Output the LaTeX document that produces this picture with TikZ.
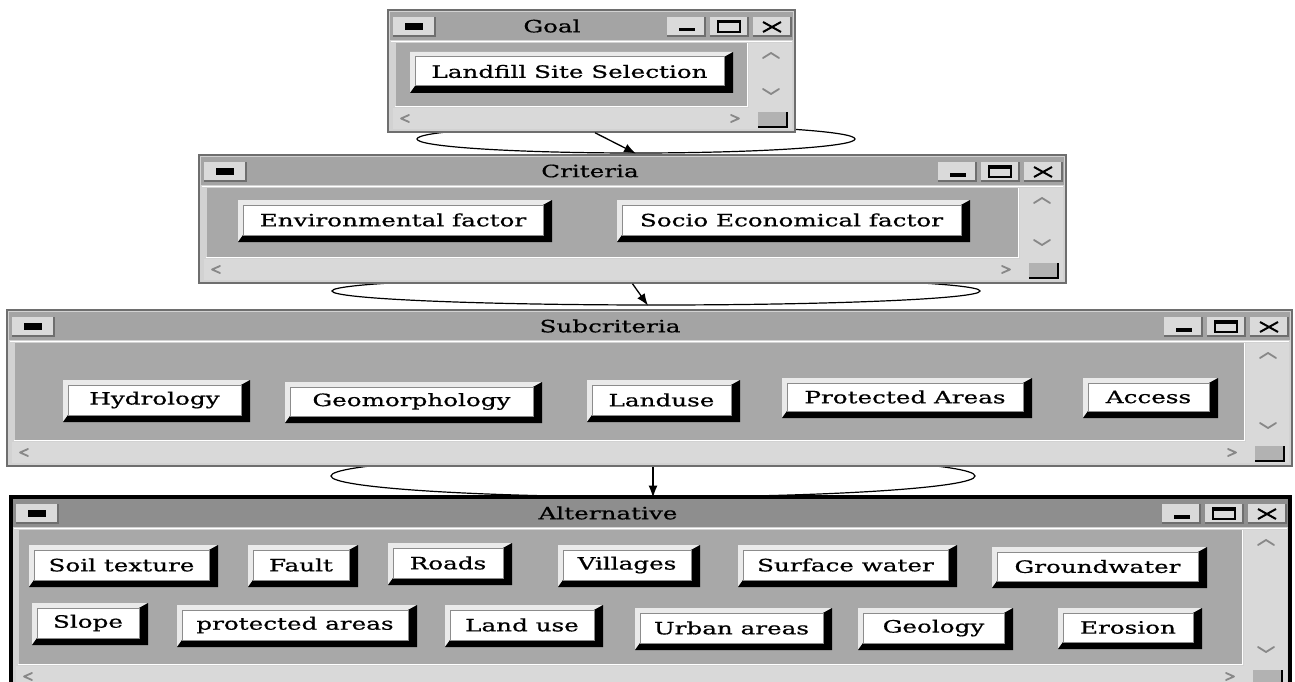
\documentclass[tikz,border=0pt]{standalone}
\usepackage{fontspec}
\newfontfamily\uifont[FakeStretch=1.45,FakeBold=0.7]{DejaVu Serif}
\usetikzlibrary{arrows.meta,shapes.geometric,calc}
\definecolor{framelight}{HTML}{D2D2D2}
\definecolor{framedark}{HTML}{6E6E6E}
\definecolor{titleinactive}{HTML}{A4A4A4}
\definecolor{titleactive}{HTML}{8E8E8E}
\definecolor{contentgray}{HTML}{A8A8A8}
\definecolor{scrollgray}{HTML}{D9D9D9}
\definecolor{btnlight}{HTML}{DADADA}
\definecolor{bevlight}{HTML}{EAEAEA}
\definecolor{faceline}{HTML}{8C8C8C}
\definecolor{chevgray}{HTML}{888888}
\definecolor{cornergray}{HTML}{B2B2B2}
\tikzset{
  inactiveframe/.style={draw=framedark,line width=1.5pt,fill=framelight,inner sep=0pt},
  activeframe/.style={draw=black,line width=4pt,fill=framelight,inner sep=0pt},
  inactivetitle/.style={fill=titleinactive},
  activetitle/.style={fill=titleactive},
  wintitle/.style={font=\uifont\fontsize{17}{20}\selectfont,text=black,inner sep=0pt},
  btnface/.style={draw=faceline,line width=1pt,fill=white,inner sep=0pt,font=\uifont\fontsize{17}{20}\selectfont},
  chev/.style={draw=chevgray,line width=1.8pt,line join=round,line cap=round},
  tbtnedge/.style={draw=framedark,line width=1.5pt},
  hoop/.style={draw=black,line width=1.2pt,ellipse,inner sep=0pt},
  conn/.style={draw=black,line width=1.3pt,-{Latex[length=12pt,width=9pt]}},
}
\newcommand\tbtnbox[2]{%
  \fill[btnlight] (#1,#2) rectangle (#1+38,#2+19);
  \draw[tbtnedge] (#1+38,#2) -- (#1+38,#2+19) -- (#1,#2+19);
}
% #1 name, #2 x1, #3 y1, #4 x2, #5 y2, #6 title, #7 title x, #8 inactive/active
\newcommand\uiwin[8]{%
  \pgfmathsetmacro\wcx{(#2+#4)/2}%
  \pgfmathsetmacro\wcy{(#3+#5)/2}%
  \pgfmathsetmacro\wwd{#4-#2}%
  \pgfmathsetmacro\wht{#5-#3}%
  \node[#8frame,minimum width=\wwd pt,minimum height=\wht pt] (#1) at (\wcx,\wcy) {};
  \fill[#8title] (#2+2,#3+2) rectangle (#4-2,#3+30);
  \fill[contentgray] (#2+8,#3+33) rectangle (#4-48,#5-26);
  \fill[scrollgray] (#4-46,#3+33) rectangle (#4-3,#5-3);
  \fill[scrollgray] (#2+5,#5-24) rectangle (#4-46,#5-3);
  \draw[white,line width=1.5pt] (#2+3,#3+31.5) -- (#4-3,#3+31.5);
  \draw[white,line width=1pt] (#2+7,#5-25.5) -- (#4-47.5,#5-25.5) -- (#4-47.5,#3+33);
  \draw[chev] (#2+21,#5-17) -- (#2+13,#5-13.5) -- (#2+21,#5-10);
  \draw[chev] (#4-64,#5-17) -- (#4-56,#5-13.5) -- (#4-64,#5-10);
  \draw[chev] (#4-32,#3+48) -- (#4-24,#3+43) -- (#4-16,#3+48);
  \draw[chev] (#4-32,#5-43) -- (#4-24,#5-38) -- (#4-16,#5-43);
  \fill[cornergray] (#4-37,#5-20) rectangle (#4-8,#5-5);
  \draw[black,line width=1.5pt] (#4-37,#5-5) -- (#4-8,#5-5) -- (#4-8,#5-20);
  \fill[btnlight] (#2+5,#3+7) rectangle (#2+47,#3+26);
  \draw[tbtnedge] (#2+47,#3+7) -- (#2+47,#3+26) -- (#2+5,#3+26);
  \fill[black] (#2+17,#3+13) rectangle (#2+35,#3+20);
  \tbtnbox{#4-128}{#3+7}
  \fill[black] (#4-116,#3+18) rectangle (#4-100,#3+21.5);
  \tbtnbox{#4-85}{#3+7}
  \draw[black,line width=1.2pt] (#4-77,#3+11) rectangle (#4-55,#3+22);
  \fill[black] (#4-77,#3+11) rectangle (#4-55,#3+13.5);
  \tbtnbox{#4-42}{#3+7}
  \draw[black,line width=2pt] (#4-32,#3+12) -- (#4-14,#3+22) (#4-32,#3+22) -- (#4-14,#3+12);
  \node[wintitle] (#1title) at (#7,#3+16) {#6};
}
% #1 name, #2 x1, #3 y1, #4 x2, #5 y2, #6 text
\newcommand\uibtn[6]{%
  \pgfmathsetmacro\btnW{#4-#2-14}%
  \pgfmathsetmacro\btnH{#5-#3-12}%
  \pgfmathsetmacro\btnX{(#2+#4-4)/2}%
  \pgfmathsetmacro\btnY{(#3+#5-2)/2}%
  \fill[bevlight] (#2,#3) -- (#4,#3) -- (#4-9,#3+5) -- (#2+5,#3+5) -- (#2+5,#5-7) -- (#2,#5) -- cycle;
  \fill[black] (#4,#3) -- (#4,#5) -- (#2,#5) -- (#2+5,#5-7) -- (#4-9,#5-7) -- (#4-9,#3+5) -- cycle;
  \node[btnface,minimum width=\btnW pt,minimum height=\btnH pt] (#1) at (\btnX,\btnY) {#6};
}
\begin{document}
\begin{tikzpicture}[x=1pt,y=-1pt]
  \useasboundingbox (0,0) rectangle (1295,682);
  \clip (0,0) rectangle (1295,682);
  \fill[white] (0,0) rectangle (1295,682);
  % hoops
  \node[hoop,minimum width=438pt,minimum height=28pt] (el1) at (636,139) {};
  \node[hoop,minimum width=648pt,minimum height=28pt] (el2) at (656,291) {};
  \node[hoop,minimum width=644pt,minimum height=42pt] (el3) at (653,476) {};
  % windows
  \uiwin{goal}{388}{10}{795}{132}{Goal}{552}{inactive}
  \uiwin{crit}{199}{155}{1066}{283}{Criteria}{590}{inactive}
  \uiwin{sub}{7}{310}{1292}{466}{Subcriteria}{610}{inactive}
  \uiwin{alt}{11}{497}{1290}{690}{Alternative}{608}{active}
  % buttons
  \uibtn{landfill}{410}{52}{733}{93}{Landfill Site Selection}
  \uibtn{env}{238}{200}{552}{242}{Environmental factor}
  \uibtn{socio}{617}{200}{970}{242}{Socio Economical factor}
  \uibtn{hydro}{63}{380}{250}{422}{Hydrology}
  \uibtn{geomorph}{285}{382}{542}{423}{Geomorphology}
  \uibtn{landuse}{587}{380}{740}{422}{Landuse}
  \uibtn{protA}{782}{378}{1032}{418}{Protected Areas}
  \uibtn{access}{1083}{378}{1218}{418}{Access}
  \uibtn{soil}{29}{545}{218}{587}{Soil texture}
  \uibtn{fault}{248}{545}{358}{587}{Fault}
  \uibtn{roads}{388}{543}{512}{585}{Roads}
  \uibtn{villages}{558}{545}{700}{587}{Villages}
  \uibtn{surface}{738}{545}{957}{587}{Surface water}
  \uibtn{ground}{992}{547}{1207}{588}{Groundwater}
  \uibtn{slope}{32}{603}{148}{645}{Slope}
  \uibtn{protB}{177}{605}{417}{647}{protected areas}
  \uibtn{landB}{445}{605}{603}{647}{Land use}
  \uibtn{urban}{635}{608}{832}{650}{Urban areas}
  \uibtn{geology}{858}{608}{1013}{650}{Geology}
  \uibtn{erosion}{1058}{608}{1202}{649}{Erosion}
  % connectors
  \draw[conn] ($(goal.south)+(3.5,0)$) -- (el1.south);
  \draw[conn] (crit.south) -- ($(el2.south)+(-8,0)$);
  \draw[conn] ($(sub.south)+(3.5,0)$) -- (el3.south);
\end{tikzpicture}
\end{document}
